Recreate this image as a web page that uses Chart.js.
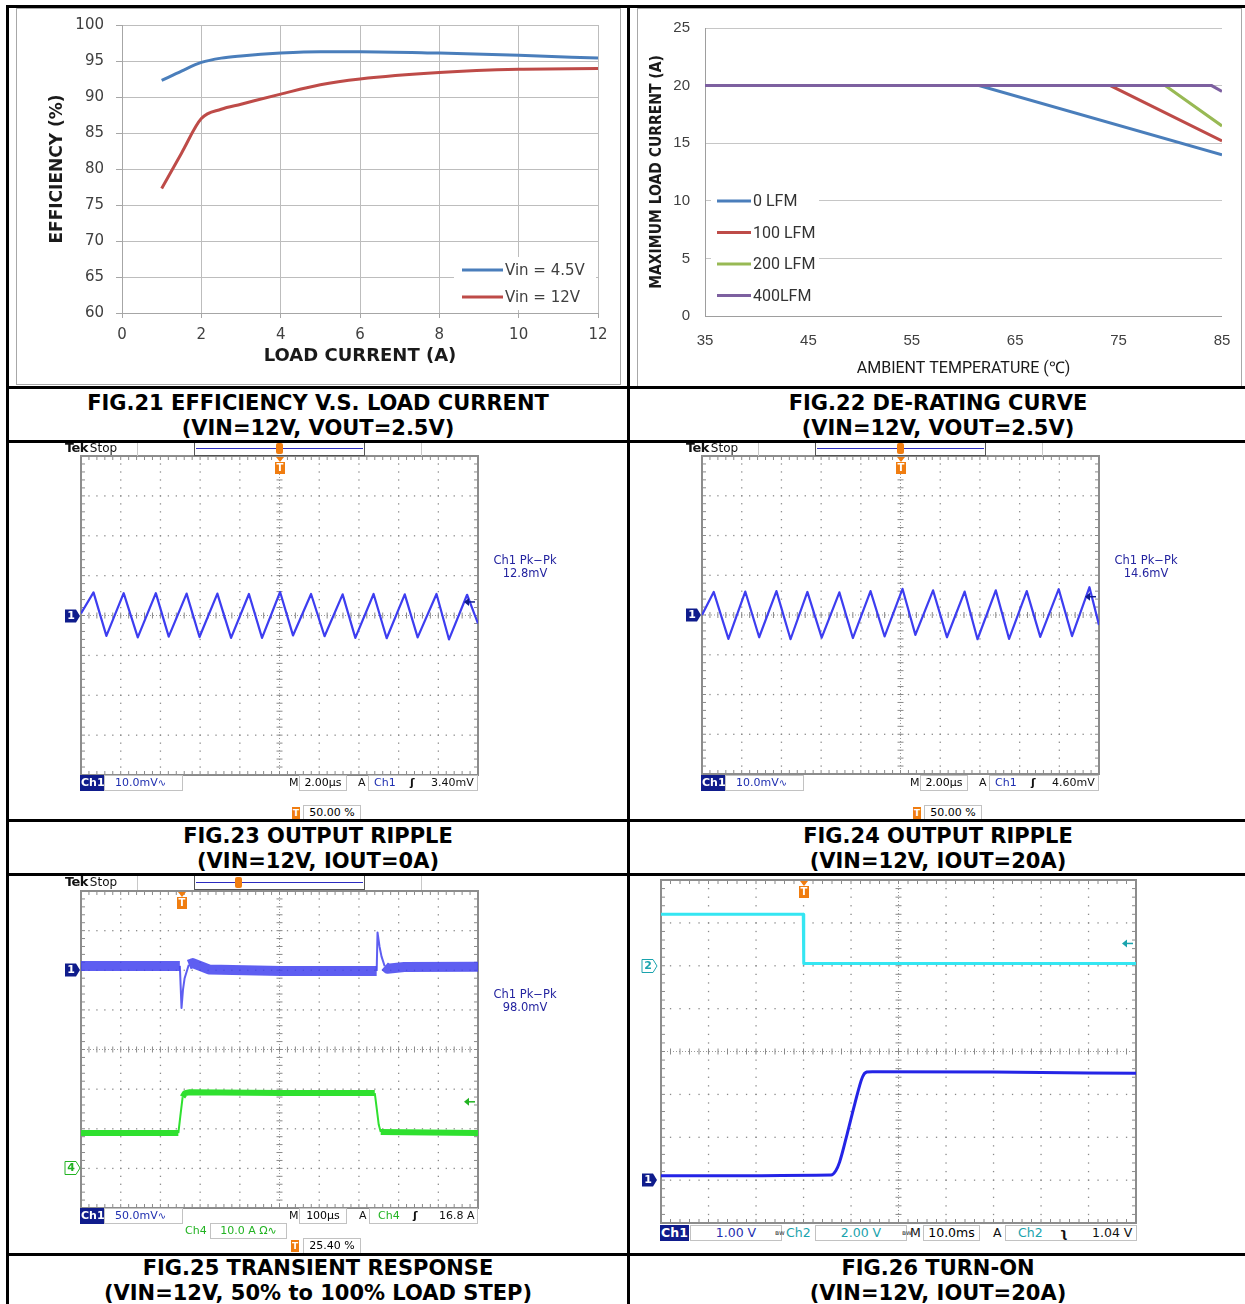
<!DOCTYPE html>
<html>
<head>
<meta charset="utf-8">
<title>Typical characteristic curves</title>
<script src="https://cdn.jsdelivr.net/npm/chart.js@4.4.1/dist/chart.umd.min.js"></script>
<style>
  html, body { margin: 0; padding: 0; background: #fff; }
  body { position: relative; width: 1245px; height: 1304px; overflow: hidden; font-family: 'DejaVu Sans', sans-serif; }
  canvas { position: absolute; }
  .cap { position: absolute; text-align: center; font: bold 21px/25px 'DejaVu Sans'; color: #000; white-space: nowrap; }
  .frame { position: absolute; box-sizing: border-box; border: 1px solid #a8a8a8; }
</style>
</head>
<body>

<div class="frame" style="left:16px;top:8px;width:605px;height:377px"></div>
<div class="frame" style="left:637px;top:8px;width:605px;height:379px"></div>

<div class="cap" style="left:9px;width:618px;top:391px">FIG.21 EFFICIENCY V.S. LOAD CURRENT<br>(VIN=12V, VOUT=2.5V)</div>
<div class="cap" style="left:630px;width:616px;top:391px">FIG.22 DE-RATING CURVE<br>(VIN=12V, VOUT=2.5V)</div>
<div class="cap" style="left:9px;width:618px;top:824px">FIG.23 OUTPUT RIPPLE<br>(VIN=12V, IOUT=0A)</div>
<div class="cap" style="left:630px;width:616px;top:824px">FIG.24 OUTPUT RIPPLE<br>(VIN=12V, IOUT=20A)</div>
<div class="cap" style="left:9px;width:618px;top:1256px">FIG.25 TRANSIENT RESPONSE<br>(VIN=12V, 50% to 100% LOAD STEP)</div>
<div class="cap" style="left:630px;width:616px;top:1256px">FIG.26 TURN-ON<br>(VIN=12V, IOUT=20A)</div>

<script>
// ---------- Fig.21 efficiency ----------
const loadCurrentA = [1, 1.5, 2, 2.5, 3, 4, 5, 6, 8, 10, 12];
const effVin45 = [92.3, 93.6, 94.8, 95.4, 95.7, 96.1, 96.3, 96.3, 96.1, 95.8, 95.4];
const effVin12 = [77.3, 82.2, 87.0, 88.3, 89.0, 90.4, 91.7, 92.5, 93.4, 93.85, 93.95];

// ---------- Fig.22 de-rating ----------
const ambientLfm0 = [35, 61.5, 85];   const maxLoadLfm0 = [20, 20, 14.0];
const ambientLfm100 = [35, 74.2, 85]; const maxLoadLfm100 = [20, 20, 15.2];
const ambientLfm200 = [35, 79.5, 85]; const maxLoadLfm200 = [20, 20, 16.5];
const ambientLfm400 = [35, 84, 85];   const maxLoadLfm400 = [20, 20, 19.5];

// ---------- Fig.23 ripple, no load (us, mV) ----------
const rippleNoLoadUs = [-10, -9.37, -8.72, -7.85, -7.14, -6.23, -5.58, -4.68, -4.03, -3.13, -2.44, -1.54, -0.88,
  0.03, 0.68, 1.59, 2.27, 3.18, 3.82, 4.74, 5.40, 6.31, 6.96, 7.91, 8.54, 9.45, 10];
const rippleNoLoadMv = [0.5, 5.8, -5.1, 5.6, -5.5, 5.6, -5.3, 5.5, -5.4, 5.5, -5.6, 5.4, -5.6,
  5.9, -5.0, 5.4, -5.2, 5.3, -5.6, 5.4, -5.7, 5.3, -5.5, 5.4, -6.0, 5.2, -2.0];

// ---------- Fig.24 ripple, 20A (us, mV) ----------
const rippleFullLoadUs = [-10, -9.41, -8.67, -7.82, -7.12, -6.25, -5.54, -4.69, -3.97, -3.08, -2.40, -1.51, -0.80,
  0.10, 0.75, 1.64, 2.34, 3.23, 3.88, 4.80, 5.47, 6.36, 7.04, 7.97, 8.64, 9.52, 10];
const rippleFullLoadMv = [0, 5.8, -6.0, 5.9, -5.6, 6.0, -6.1, 5.8, -5.7, 5.7, -5.8, 6.0, -5.4,
  6.6, -5.0, 6.2, -5.6, 5.9, -6.1, 6.2, -6.0, 6.0, -5.5, 6.5, -5.3, 7.0, -2.5];

// ---------- Fig.25 load step (us) ----------
const transientCh1Us = [-254, -5, -0.8, 3, 7, 17.5, 27.6, 68, 250, 490.8, 492.9, 497.9, 502.9, 511, 518, 560, 746];
const transientCh1Mv = [5.5, 5.5, -47.5, -24, -10, 7, 9, 1, -1, -1, 47.7, 30, 17.5, 5, 2, 4, 4.5];
const transientCh4Us = [-254, -8.8, -4, 2, 8, 20, 250, 486, 491, 496, 501, 746];
const transientCh4A = [8.9, 8.9, 13, 18, 19.0, 19.2, 19.0, 19.0, 15, 11, 9.2, 8.9];

// ---------- Fig.26 turn-on (ms) ----------
const turnOnCh1Ms = [-30, 5.8, 6.8, 7.6, 9.2, 10.8, 12.4, 13.3, 14.5, 40, 70];
const turnOnCh1V = [0.1, 0.12, 0.22, 0.42, 1.08, 1.78, 2.4, 2.52, 2.53, 2.52, 2.49];
const turnOnCh2Ms = [-30, -0.05, 0.05, 70];
const turnOnCh2V = [2.4, 2.4, 0.1, 0.1];

const pts = (xs, ys) => xs.map((x, i) => ({ x, y: ys[i] }));

function makeCanvas(x, y, w, h) {
  const c = document.createElement('canvas');
  c.width = w; c.height = h;
  c.style.left = x + 'px'; c.style.top = y + 'px';
  c.style.width = w + 'px'; c.style.height = h + 'px';
  document.body.appendChild(c);
  return c;
}

// fixed axis box; the layout padding already leaves room for the labels
const fixAxis = (w, h) => s => {
  if (w) s.width = w;
  if (h) s.height = h;
  s.paddingTop = s.paddingBottom = s.paddingLeft = s.paddingRight = 0;
};

// legend in a white box inside the plot, like the spreadsheet charts
const boxLegend = {
  id: 'boxLegend',
  afterDatasetsDraw(chart, args, o) {
    const { ctx } = chart;
    ctx.save();
    ctx.fillStyle = '#fff';
    ctx.fillRect(o.box[0], o.box[1], o.box[2], o.box[3]);
    ctx.font = o.font;
    ctx.textBaseline = 'middle';
    chart.data.datasets.forEach((ds, i) => {
      const y = o.y + i * o.gap;
      ctx.strokeStyle = ds.borderColor;
      ctx.lineWidth = 3;
      ctx.beginPath(); ctx.moveTo(o.x, y); ctx.lineTo(o.x + o.len, y); ctx.stroke();
      ctx.fillStyle = o.color;
      ctx.fillText(ds.label, o.x + o.len + 2, y + 1);
    });
    ctx.restore();
  }
};

// oscilloscope graticule: 10 x 8 divisions
const scopeGrid = {
  id: 'scopeGrid',
  beforeDatasetsDraw(chart) {
    const { ctx, chartArea: a } = chart;
    const w = a.right - a.left, h = a.bottom - a.top;
    const dx = w / 10, dy = h / 8;
    ctx.save();
    ctx.fillStyle = '#8a8a8a';
    for (let i = 1; i < 10; i++) {
      if (i === 5) continue;
      for (let k = 0; k <= 40; k++) ctx.fillRect(a.left + i * dx - 0.6, a.top + k * dy / 5 - 0.6, 1.3, 1.3);
    }
    for (let j = 1; j < 8; j++) {
      if (j === 4) continue;
      for (let k = 0; k <= 50; k++) ctx.fillRect(a.left + k * dx / 5 - 0.6, a.top + j * dy - 0.6, 1.3, 1.3);
    }
    const cx = a.left + 5 * dx, cy = a.top + 4 * dy;
    ctx.strokeStyle = '#9a9a9a'; ctx.lineWidth = 1; ctx.setLineDash([1, 2]);
    ctx.beginPath();
    ctx.moveTo(cx, a.top); ctx.lineTo(cx, a.bottom);
    ctx.moveTo(a.left, cy); ctx.lineTo(a.right, cy);
    ctx.stroke();
    ctx.setLineDash([]);
    for (let k = 1; k < 40; k++) ctx.fillRect(cx - 3, a.top + k * dy / 5 - 0.5, 6, 1);
    for (let k = 1; k < 50; k++) ctx.fillRect(a.left + k * dx / 5 - 0.5, cy - 3, 1, 6);
    for (let k = 1; k < 50; k++) {
      const x = a.left + k * dx / 5;
      ctx.fillRect(x - 0.5, a.top, 1, 4); ctx.fillRect(x - 0.5, a.bottom - 4, 1, 4);
    }
    for (let k = 1; k < 40; k++) {
      const y = a.top + k * dy / 5;
      ctx.fillRect(a.left, y - 0.5, 4, 1); ctx.fillRect(a.right - 4, y - 0.5, 4, 1);
    }
    ctx.strokeStyle = '#8c8c8c'; ctx.lineWidth = 2;
    ctx.strokeRect(a.left, a.top, w, h);
    ctx.restore();
  }
};

// ground markers, trigger position and trigger level
const scopeMarks = {
  id: 'scopeMarks',
  afterDatasetsDraw(chart, args, o) {
    const { ctx, chartArea: a, scales } = chart;
    ctx.save();
    ctx.textAlign = 'center'; ctx.textBaseline = 'middle';
    (o.grounds || []).forEach(g => {
      const y = Math.round(scales[g.axis].getPixelForValue(0));
      const r = a.left - o.gap, l = r - 15, hh = 6.5;
      ctx.beginPath();
      ctx.moveTo(l, y - hh); ctx.lineTo(r - 4, y - hh); ctx.lineTo(r, y);
      ctx.lineTo(r - 4, y + hh); ctx.lineTo(l, y + hh); ctx.closePath();
      if (g.filled) { ctx.fillStyle = g.color; ctx.fill(); ctx.fillStyle = '#fff'; }
      else { ctx.fillStyle = '#fff'; ctx.fill(); ctx.strokeStyle = g.color; ctx.lineWidth = 1; ctx.stroke(); ctx.fillStyle = g.color; }
      ctx.font = 'bold 11px "DejaVu Sans"';
      ctx.fillText(g.text, l + 6, y + 0.5);
    });
    if (o.trigger !== undefined) {
      const x = Math.round(scales.x.getPixelForValue(o.trigger));
      ctx.fillStyle = '#f07d10';
      ctx.beginPath(); ctx.moveTo(x - 4, a.top + 1); ctx.lineTo(x + 4, a.top + 1); ctx.lineTo(x, a.top + 6); ctx.closePath(); ctx.fill();
      ctx.fillRect(x - 5, a.top + 6, 10, 12);
      ctx.fillStyle = '#fff'; ctx.font = 'bold 10px "DejaVu Sans"';
      ctx.fillText('T', x, a.top + 12.5);
    }
    if (o.level) {
      const y = scales[o.level.axis].getPixelForValue(o.level.value);
      const x = a.right - 3;
      ctx.strokeStyle = ctx.fillStyle = o.level.color; ctx.lineWidth = 1.5;
      ctx.beginPath(); ctx.moveTo(x, y); ctx.lineTo(x - 7, y); ctx.stroke();
      ctx.beginPath(); ctx.moveTo(x - 11, y); ctx.lineTo(x - 6, y - 4); ctx.lineTo(x - 6, y + 4); ctx.closePath(); ctx.fill();
    }
    ctx.restore();
  }
};

// thick band for the noisy flat parts, thin on fast edges
const steep = c => Math.abs(c.p1.y - c.p0.y) > 2.5 * Math.abs(c.p1.x - c.p0.x) + 1.5;

function scopeChart(canvas, datasets, scales, marks) {
  return new Chart(canvas, {
    type: 'line',
    data: { datasets },
    options: {
      responsive: false, animation: false, events: [],
      layout: { padding: { left: 20, top: 16, right: 16, bottom: 2 } },
      elements: { point: { radius: 0 }, line: { tension: 0, borderJoinStyle: 'round' } },
      plugins: { legend: { display: false }, tooltip: { enabled: false }, scopeMarks: marks },
      scales
    },
    plugins: [scopeGrid, scopeMarks]
  });
}

const NAVY = '#0f1c8c', BLUE_TXT = '#1f2fb0', TEAL = '#1aa3ad', GREEN = '#22b322', ORANGE = '#f07d10';

// =============================================================
// FIG.21
// =============================================================
new Chart(makeCanvas(16, 8, 605, 376), {
  type: 'line',
  data: {
    datasets: [
      { label: 'Vin = 4.5V', data: pts(loadCurrentA, effVin45), borderColor: '#4a7ebb' },
      { label: 'Vin = 12V', data: pts(loadCurrentA, effVin12), borderColor: '#be4b48' }
    ]
  },
  options: {
    responsive: false, animation: false, events: [],
    layout: { padding: { left: 0, top: 17, right: 23, bottom: 0 } },
    elements: { point: { radius: 0 }, line: { borderWidth: 3, cubicInterpolationMode: 'monotone', fill: false } },
    plugins: {
      legend: { display: false }, tooltip: { enabled: false },
      boxLegend: { box: [438, 249, 142, 53], x: 446, y: 262, gap: 27, len: 41, font: '15px "DejaVu Sans"', color: '#404040' }
    },
    scales: {
      x: {
        type: 'linear', min: 0, max: 12,
        ticks: { stepSize: 2, padding: 8, color: '#404040', font: { family: 'DejaVu Sans', size: 15 } },
        grid: { color: '#bdbdbd', tickLength: 5, tickColor: '#a6a6a6' },
        border: { color: '#a6a6a6' },
        title: { display: true, text: 'LOAD CURRENT (A)', color: '#1a1a1a',
                 font: { family: 'DejaVu Sans', size: 18, weight: 'bold' }, padding: { top: 0, bottom: 17 } },
        afterFit: fixAxis(0, 71)
      },
      y: {
        min: 60, max: 100,
        ticks: { stepSize: 5, padding: 12, color: '#404040', font: { family: 'DejaVu Sans', size: 15 } },
        grid: { color: '#bdbdbd', tickLength: 6, tickColor: '#a6a6a6' },
        border: { color: '#a6a6a6' },
        title: { display: true, text: 'EFFICIENCY (%)', color: '#1a1a1a',
                 font: { family: 'DejaVu Sans', size: 17, weight: 'bold' }, padding: { top: 31, bottom: 0 } },
        afterFit: fixAxis(106, 0)
      }
    }
  },
  plugins: [boxLegend]
});

// =============================================================
// FIG.22
// =============================================================
new Chart(makeCanvas(637, 8, 604, 378), {
  type: 'line',
  data: {
    datasets: [
      { label: '0 LFM', data: pts(ambientLfm0, maxLoadLfm0), borderColor: '#4a7ebb', order: 3 },
      { label: '100 LFM', data: pts(ambientLfm100, maxLoadLfm100), borderColor: '#be4b48', order: 2 },
      { label: '200 LFM', data: pts(ambientLfm200, maxLoadLfm200), borderColor: '#98b954', order: 1 },
      { label: '400LFM', data: pts(ambientLfm400, maxLoadLfm400), borderColor: '#7d60a0', order: 0 }
    ]
  },
  options: {
    responsive: false, animation: false, events: [],
    layout: { padding: { left: 0, top: 20, right: 19, bottom: 0 } },
    elements: { point: { radius: 0 }, line: { borderWidth: 3, tension: 0, fill: false } },
    plugins: {
      legend: { display: false }, tooltip: { enabled: false },
      boxLegend: { box: [74, 180, 108, 118], x: 80, y: 193, gap: 31.5, len: 34, font: '16px Roboto', color: '#333' }
    },
    scales: {
      x: {
        type: 'linear', min: 35, max: 85,
        ticks: { stepSize: 10, padding: 16, color: '#404040', font: { family: 'Liberation Sans', size: 15 } },
        grid: { display: false, drawTicks: false },
        border: { display: false },
        title: { display: true, text: 'AMBIENT TEMPERATURE (℃)', color: '#1a1a1a',
                 font: { family: 'Roboto', size: 16 }, padding: { top: 0, bottom: 7 } },
        afterFit: fixAxis(0, 70)
      },
      y: {
        min: 0, max: 25,
        ticks: { stepSize: 5, padding: 15, color: '#404040', font: { family: 'Liberation Sans', size: 15 } },
        grid: { color: c => (c.tick && c.tick.value === 0 ? '#9e9e9e' : '#c6c6c6'), drawTicks: false },
        border: { color: '#9e9e9e' },
        title: { display: true, text: 'MAXIMUM LOAD CURRENT (A)', color: '#1a1a1a',
                 font: { family: '"DejaVu Sans Condensed", Roboto', size: 15.5, weight: 'bold' }, padding: { top: 11, bottom: 0 } },
        afterFit: fixAxis(68, 0)
      }
    }
  },
  plugins: [boxLegend]
});

// =============================================================
// FIG.23 / FIG.24 ripple
// =============================================================
const rippleScales = {
  x: { type: 'linear', min: -10, max: 10, display: false },
  y1: { min: -40, max: 40, display: false }
};
scopeChart(makeCanvas(61, 440, 433, 337),
  [{ data: pts(rippleNoLoadUs, rippleNoLoadMv), yAxisID: 'y1', borderColor: '#3d3df0', borderWidth: 2.2 }],
  rippleScales,
  { gap: 1, grounds: [{ axis: 'y1', text: '1', color: NAVY, filled: true }], trigger: 0,
    level: { axis: 'y1', value: 3.4, color: NAVY } });

scopeChart(makeCanvas(682, 440, 433, 336),
  [{ data: pts(rippleFullLoadUs, rippleFullLoadMv), yAxisID: 'y1', borderColor: '#3d3df0', borderWidth: 2.2 }],
  rippleScales,
  { gap: 1, grounds: [{ axis: 'y1', text: '1', color: NAVY, filled: true }], trigger: 0,
    level: { axis: 'y1', value: 4.6, color: NAVY } });

// =============================================================
// FIG.25 transient
// =============================================================
scopeChart(makeCanvas(61, 875, 433, 335),
  [
    { data: pts(transientCh1Us, transientCh1Mv), yAxisID: 'y1', borderColor: 'rgba(66,66,238,0.85)', borderWidth: 2,
      segment: { borderWidth: c => (steep(c) ? 2 : 10) } },
    { data: pts(transientCh4Us, transientCh4A), yAxisID: 'y4', borderColor: '#2fe02f', borderWidth: 2,
      segment: { borderWidth: c => (steep(c) ? 2 : 6) } }
  ],
  {
    x: { type: 'linear', min: -254, max: 746, display: false },
    y1: { min: -300, max: 100, display: false },
    y4: { min: -10, max: 70, display: false }
  },
  { gap: 1,
    grounds: [{ axis: 'y1', text: '1', color: NAVY, filled: true }, { axis: 'y4', text: '4', color: GREEN, filled: false }],
    trigger: 0, level: { axis: 'y4', value: 16.8, color: GREEN } });

// =============================================================
// FIG.26 turn-on
// =============================================================
scopeChart(makeCanvas(641, 864, 511, 361),
  [
    { data: pts(turnOnCh2Ms, turnOnCh2V), yAxisID: 'y2', borderColor: '#35e6f2', borderWidth: 3 },
    { data: pts(turnOnCh1Ms, turnOnCh1V), yAxisID: 'y1', borderColor: '#2424e6', borderWidth: 3,
      cubicInterpolationMode: 'monotone' }
  ],
  {
    x: { type: 'linear', min: -30, max: 70, display: false },
    y1: { min: -1, max: 7, display: false },
    y2: { min: -12, max: 4, display: false }
  },
  { gap: 4,
    grounds: [{ axis: 'y2', text: '2', color: TEAL, filled: false }, { axis: 'y1', text: '1', color: NAVY, filled: true }],
    trigger: 0, level: { axis: 'y2', value: 1.04, color: TEAL } });

// =============================================================
// scope readouts (plain text on the page)
// =============================================================
function el(x, y, w, h, css, html) {
  const d = document.createElement('div');
  d.style.cssText = `position:absolute;left:${x}px;top:${y}px;` + (w ? `width:${w}px;` : '') + (h ? `height:${h}px;` : '') + css;
  if (html) d.innerHTML = html;
  document.body.appendChild(d);
  return d;
}
function ro(x, yc, html, css = '', fs = 11) {
  return el(x, yc - 7, 0, 14, `line-height:14px;font-size:${fs}px;white-space:nowrap;color:#111;z-index:3;` + css, html);
}
function rbox(x0, x1, yc, html = '', css = '', fs = 11) {
  return el(x0, yc - 8, x1 - x0, 16, `box-sizing:border-box;border:1px solid #c2c2c2;background:#fff;line-height:14px;font-size:${fs}px;white-space:nowrap;text-align:center;z-index:3;` + css, html);
}
function inv(x0, x1, yc, fs = 11) {
  return rbox(x0, x1, yc, 'Ch1', `background:${NAVY};border-color:${NAVY};color:#fff;font-weight:bold;`, fs);
}
function tMark(x, yc) {
  el(x, yc - 6, 8, 12, `background:${ORANGE};color:#fff;font:bold 9px/12px "DejaVu Sans";text-align:center;z-index:3`, 'T');
}
function pkpk(xc, y, value) {
  el(xc - 45, y - 7, 90, 14, `line-height:14px;font-size:11.5px;text-align:center;color:#2424a0;z-index:3`, 'Ch1 Pk−Pk');
  el(xc - 45, y + 6, 90, 14, `line-height:14px;font-size:11.5px;text-align:center;color:#2424a0;z-index:3`, value);
}
function tekHeader(dx, y0, markX) {
  ro(65 + dx, y0 + 6, '<b style="font-size:13px;letter-spacing:-0.6px">Tek</b><span style="font-size:12px;margin-left:2px">Stop</span>');
  el(137 + dx, y0, 285, 14, 'box-sizing:border-box;border-left:1px solid #c8c8c8;border-right:1px solid #c8c8c8;z-index:2');
  el(194 + dx, y0, 171, 14, 'box-sizing:border-box;border:1px solid #555;border-top:none;background:#fff;z-index:2');
  el(196 + dx, y0 + 6, 167, 1, 'background:#2b2bc0;z-index:2');
  el(markX - 3, y0 + 1, 7, 11, `background:${ORANGE};border-radius:2px;z-index:2`);
}

function rippleReadouts(dx, trigLevel, pk) {
  tekHeader(dx, 442, 279 + dx);
  inv(80 + dx, 104 + dx, 783);
  rbox(104 + dx, 183 + dx, 783, `<span style="color:${BLUE_TXT}">10.0mV</span><span style="color:${BLUE_TXT};font-size:10px">∿</span>`, 'text-align:left;padding-left:10px');
  ro(289 + dx, 783, 'M');
  rbox(299 + dx, 347 + dx, 783, '2.00µs');
  ro(358 + dx, 783, 'A');
  rbox(368 + dx, 478 + dx, 783);
  ro(374 + dx, 783, 'Ch1', `color:${BLUE_TXT}`);
  ro(410 + dx, 783, 'ʃ', 'font-weight:bold');
  ro(431 + dx, 783, trigLevel);
  tMark(292 + dx, 813);
  rbox(303 + dx, 361 + dx, 813, '50.00 %');
  pkpk(525 + dx, 560, pk);
}
rippleReadouts(0, '3.40mV', '12.8mV');
rippleReadouts(621, '4.60mV', '14.6mV');

// fig 25
tekHeader(0, 876, 238);
inv(80, 104, 1216);
rbox(104, 183, 1216, `<span style="color:${BLUE_TXT}">50.0mV</span><span style="color:${BLUE_TXT};font-size:10px">∿</span>`, 'text-align:left;padding-left:10px');
ro(289, 1216, 'M');
rbox(299, 347, 1216, '100µs');
ro(359, 1216, 'A');
rbox(369, 478, 1216);
ro(378, 1216, 'Ch4', `color:${GREEN}`);
ro(413, 1216, 'ʃ', 'font-weight:bold');
ro(439, 1216, '16.8 A');
ro(185, 1231, 'Ch4', `color:${GREEN}`);
rbox(210, 287, 1231, '10.0 A Ω∿', `color:${GREEN}`);
tMark(291, 1246);
rbox(303, 361, 1246, '25.40 %');
pkpk(525, 994, '98.0mV');

// fig 26
const F26 = 12.5;
inv(660, 689, 1233, F26);
rbox(690, 782, 1233, '1.00 V', `color:${BLUE_TXT}`, F26);
ro(775, 1233, 'ʙw', 'font-size:7px;color:#333');
ro(786, 1233, 'Ch2', `color:${TEAL}`, F26);
rbox(815, 907, 1233, '2.00 V', `color:${TEAL}`, F26);
ro(902, 1233, 'ʙw', 'font-size:7px;color:#333');
ro(910, 1233, 'M', '', F26);
rbox(923, 980, 1233, '10.0ms', '', F26);
ro(993, 1233, 'A', '', F26);
rbox(1005, 1137, 1233, '', '', F26);
ro(1018, 1233, 'Ch2', `color:${TEAL}`, F26);
ro(1060, 1233, 'ʅ', 'font-weight:bold', F26);
ro(1092, 1233, '1.04 V', '', F26);

// ---------- table rules ----------
[5, 386, 440, 819, 873, 1253].forEach(y => el(6, y, 1245, 3, 'background:#000;z-index:10'));
[6, 627].forEach(x => el(x, 5, 3, 1300, 'background:#000;z-index:10'));
</script>
</body>
</html>
